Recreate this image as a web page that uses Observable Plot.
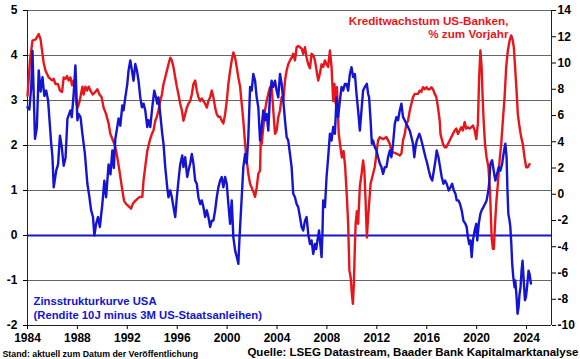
<!DOCTYPE html>
<html><head><meta charset="utf-8">
<script src="https://cdn.jsdelivr.net/npm/d3@7"></script>
<script src="https://cdn.jsdelivr.net/npm/@observablehq/plot@0.6"></script>
<style>
body{margin:0;background:#fff;}
</style></head><body><div id="chart"></div>
<script>
// Zinsstrukturkurve USA (left axis, %-Punkte)
const blueYears=[1984.0,1984.15,1984.3,1984.4,1984.6,1984.75,1984.9,1985.05,1985.2,1985.35,1985.5,1985.65,1985.9,1986.0,1986.1,1986.3,1986.45,1986.6,1986.75,1986.9,1987.05,1987.2,1987.44,1987.55,1987.7,1987.84,1988.0,1988.1,1988.25,1988.4,1988.6,1988.8,1988.95,1989.1,1989.25,1989.36,1989.5,1989.65,1989.8,1990.0,1990.16,1990.3,1990.5,1990.65,1990.8,1990.92,1991.04,1991.17,1991.3,1991.44,1991.6,1991.7,1991.84,1992.0,1992.1,1992.24,1992.37,1992.5,1992.64,1992.77,1992.9,1993.04,1993.17,1993.3,1993.44,1993.6,1993.7,1993.84,1994.0,1994.16,1994.3,1994.4,1994.5,1994.64,1994.8,1994.9,1995.04,1995.2,1995.3,1995.44,1995.57,1995.7,1995.84,1995.97,1996.1,1996.24,1996.4,1996.5,1996.64,1996.8,1996.9,1997.04,1997.17,1997.3,1997.44,1997.57,1997.7,1997.84,1997.97,1998.1,1998.24,1998.37,1998.5,1998.64,1998.77,1998.9,1999.04,1999.17,1999.3,1999.44,1999.57,1999.7,1999.84,1999.97,2000.1,2000.24,2000.37,2000.5,2000.64,2000.78,2000.9,2000.97,2001.04,2001.17,2001.3,2001.44,2001.57,2001.7,2001.84,2001.97,2002.1,2002.24,2002.37,2002.5,2002.64,2002.77,2002.9,2003.04,2003.17,2003.3,2003.44,2003.57,2003.7,2003.84,2003.97,2004.1,2004.24,2004.37,2004.5,2004.64,2004.77,2004.9,2005.04,2005.17,2005.3,2005.44,2005.57,2005.7,2005.84,2005.97,2006.1,2006.24,2006.37,2006.5,2006.64,2006.77,2006.9,2007.04,2007.14,2007.24,2007.37,2007.47,2007.57,2007.64,2007.7,2007.84,2007.97,2008.1,2008.24,2008.37,2008.5,2008.64,2008.77,2008.9,2009.04,2009.17,2009.3,2009.44,2009.57,2009.7,2009.84,2009.97,2010.1,2010.24,2010.37,2010.5,2010.64,2010.77,2010.9,2011.04,2011.2,2011.3,2011.38,2011.5,2011.6,2011.7,2011.84,2011.97,2012.1,2012.24,2012.37,2012.5,2012.64,2012.77,2012.9,2013.04,2013.17,2013.3,2013.44,2013.57,2013.7,2013.84,2013.97,2014.1,2014.24,2014.37,2014.5,2014.64,2014.77,2014.9,2015.0,2015.1,2015.2,2015.4,2015.5,2015.64,2015.77,2015.9,2016.04,2016.17,2016.3,2016.44,2016.57,2016.7,2016.8,2016.94,2017.07,2017.2,2017.34,2017.47,2017.6,2017.76,2017.9,2018.04,2018.17,2018.3,2018.4,2018.54,2018.67,2018.8,2018.94,2019.1,2019.2,2019.3,2019.4,2019.5,2019.6,2019.7,2019.84,2019.97,2020.05,2020.17,2020.3,2020.4,2020.54,2020.67,2020.8,2020.94,2021.0,2021.1,2021.24,2021.37,2021.5,2021.64,2021.77,2021.9,2022.04,2022.2,2022.3,2022.4,2022.47,2022.54,2022.64,2022.7,2022.78,2022.85,2022.94,2023.04,2023.1,2023.2,2023.28,2023.36,2023.44,2023.52,2023.6,2023.68,2023.76,2023.87,2023.95,2024.04,2024.16,2024.24,2024.35];
const blueValues=[2.85,2.8,3.3,4.1,2.15,2.4,3.67,3.2,3.52,3.1,3.22,3.0,2.04,1.75,1.07,1.44,1.58,2.22,1.96,1.55,1.73,2.59,2.78,2.63,3.15,3.78,2.56,2.7,2.63,2.26,1.82,1.15,0.88,0.56,0.41,0.0,0.26,0.41,0.19,0.7,1.22,0.85,1.58,1.36,1.89,1.5,2.15,2.37,2.6,2.44,2.89,2.78,3.07,3.37,3.67,3.89,3.67,3.44,3.81,3.67,3.44,3.07,2.85,2.93,2.78,2.41,2.56,2.41,2.85,3.22,3.07,2.93,3.07,2.7,2.26,2.04,1.52,1.07,0.85,1.0,0.85,0.63,0.41,0.85,1.22,1.58,1.78,1.52,1.74,1.3,1.44,1.6,1.81,1.6,1.22,1.15,0.85,0.7,0.78,0.63,0.41,0.56,0.41,0.19,0.33,0.33,0.56,0.85,1.07,1.22,1.3,1.07,1.3,1.15,0.7,0.26,0.78,-0.04,-0.33,-0.48,-0.63,-0.19,0.19,0.85,1.52,1.81,1.6,2.19,3.3,3.22,3.59,3.44,3.07,2.85,2.11,2.41,2.78,2.56,2.7,2.33,3.15,3.44,3.3,3.44,3.22,3.07,3.59,3.37,3.0,2.56,2.19,2.11,1.81,1.52,0.93,0.85,0.7,0.63,0.41,0.19,0.11,0.33,0.41,0.04,-0.19,-0.11,-0.41,-0.19,-0.3,-0.11,0.11,-0.19,-0.48,0.04,0.78,0.63,1.3,1.74,2.26,2.11,2.41,2.26,3.07,2.63,3.0,3.3,3.22,3.37,3.37,3.22,3.59,3.74,3.52,3.59,3.15,2.78,2.33,2.78,3.22,3.3,3.37,3.15,3.07,2.56,2.04,2.11,1.96,1.89,1.74,1.6,1.52,1.37,1.52,1.52,1.74,1.89,1.74,2.04,2.48,2.63,2.56,2.78,2.93,2.63,2.56,2.48,2.41,2.33,2.19,2.04,1.74,1.96,2.11,2.26,2.19,2.04,1.89,1.74,1.6,1.44,1.3,1.22,1.44,1.67,1.89,1.74,1.52,1.3,1.15,1.22,1.15,1.0,1.07,1.15,1.0,0.93,0.78,0.78,0.7,0.56,0.33,0.26,0.19,-0.04,-0.19,-0.11,-0.48,-0.11,0.11,0.26,-0.11,0.26,0.48,0.56,0.63,0.7,0.78,1.0,1.15,1.59,1.67,1.44,1.22,1.37,1.52,1.44,1.59,1.89,2.04,1.74,1.0,0.48,0.33,0.19,-0.19,-0.63,-0.93,-1.15,-1.0,-1.37,-1.74,-1.59,-1.3,-1.15,-0.78,-0.56,-0.93,-1.44,-1.37,-1.15,-0.78,-0.85,-1.07];

// Kreditwachstum US-Banken, % zum Vorjahr (right axis)
const redYears=[1984.0,1984.2,1984.4,1984.65,1984.9,1985.05,1985.2,1985.3,1985.44,1985.7,1985.97,1986.1,1986.24,1986.44,1986.6,1986.77,1986.9,1987.04,1987.17,1987.3,1987.44,1987.57,1987.7,1987.78,1987.92,1988.02,1988.18,1988.4,1988.5,1988.64,1988.77,1988.9,1989.1,1989.24,1989.44,1989.6,1989.77,1989.94,1990.1,1990.3,1990.5,1990.64,1990.85,1991.04,1991.2,1991.37,1991.6,1991.74,1991.9,1992.1,1992.3,1992.44,1992.64,1992.8,1993.0,1993.2,1993.3,1993.44,1993.6,1993.8,1993.97,1994.1,1994.24,1994.37,1994.5,1994.64,1994.77,1994.9,1995.04,1995.17,1995.3,1995.44,1995.57,1995.7,1995.84,1995.97,1996.1,1996.24,1996.37,1996.5,1996.64,1996.77,1996.9,1997.04,1997.17,1997.3,1997.44,1997.57,1997.7,1997.84,1997.97,1998.1,1998.24,1998.37,1998.5,1998.64,1998.77,1998.9,1999.04,1999.17,1999.3,1999.44,1999.57,1999.7,1999.84,1999.97,2000.1,2000.24,2000.37,2000.5,2000.64,2000.77,2000.9,2001.04,2001.17,2001.3,2001.44,2001.57,2001.7,2001.84,2001.97,2002.1,2002.24,2002.37,2002.5,2002.64,2002.7,2002.77,2002.9,2003.04,2003.17,2003.3,2003.44,2003.57,2003.7,2003.84,2003.97,2004.1,2004.24,2004.37,2004.5,2004.64,2004.77,2004.9,2005.04,2005.17,2005.3,2005.44,2005.57,2005.7,2005.84,2005.97,2006.1,2006.24,2006.37,2006.5,2006.64,2006.77,2006.9,2007.04,2007.17,2007.3,2007.44,2007.57,2007.7,2007.84,2007.97,2008.1,2008.24,2008.37,2008.5,2008.6,2008.7,2008.8,2008.95,2009.08,2009.2,2009.33,2009.46,2009.6,2009.7,2009.8,2009.9,2010.0,2010.08,2010.16,2010.24,2010.3,2010.4,2010.5,2010.64,2010.77,2010.9,2011.0,2011.1,2011.2,2011.3,2011.5,2011.84,2012.1,2012.24,2012.5,2012.77,2013.04,2013.17,2013.3,2013.57,2013.84,2013.97,2014.1,2014.24,2014.37,2014.5,2014.64,2014.77,2014.9,2015.04,2015.17,2015.3,2015.44,2015.57,2015.7,2015.84,2015.97,2016.1,2016.24,2016.37,2016.5,2016.64,2016.77,2016.9,2017.04,2017.1,2017.3,2017.44,2017.57,2017.7,2017.84,2017.97,2018.1,2018.24,2018.37,2018.5,2018.64,2018.77,2018.9,2019.04,2019.17,2019.3,2019.44,2019.57,2019.7,2019.84,2019.97,2020.1,2020.2,2020.3,2020.4,2020.47,2020.56,2020.67,2020.8,2020.94,2021.07,2021.2,2021.3,2021.38,2021.46,2021.57,2021.7,2021.84,2021.97,2022.1,2022.24,2022.37,2022.5,2022.64,2022.77,2022.88,2022.98,2023.08,2023.2,2023.3,2023.44,2023.57,2023.7,2023.84,2023.97,2024.1,2024.24];
const redValues=[7.5,10.2,11.7,11.8,12.2,11.8,10.7,10.0,9.43,8.9,8.67,8.8,8.4,8.4,7.9,7.8,8.9,8.8,9.0,8.67,8.9,8.3,8.67,8.2,6.9,6.6,7.1,8.2,7.6,8.2,7.9,8.2,7.8,7.6,7.8,8.0,7.6,7.4,6.6,6.1,5.4,4.6,4.1,3.6,2.8,1.8,0.3,-0.5,-0.73,-0.9,-1.1,-0.73,-0.5,-0.35,-0.2,-0.2,1.05,2.1,3.3,4.1,4.6,4.86,5.6,5.9,6.4,7.1,7.6,8.4,8.9,9.4,9.9,10.4,10.2,9.7,8.9,8.2,7.6,6.9,6.4,5.6,6.1,6.6,6.9,7.1,7.6,8.4,8.67,7.9,7.4,7.1,7.3,7.1,6.9,6.6,7.1,7.4,7.9,7.4,6.6,6.1,5.9,5.9,5.6,5.4,6.1,7.1,8.4,9.4,10.2,10.8,10.4,9.7,8.9,8.2,6.9,5.6,3.84,2.6,1.56,0.8,0.5,0.2,-0.2,0.5,1.56,1.8,4.35,3.84,5.1,6.4,7.1,7.65,8.16,8.16,6.4,4.6,4.86,5.87,6.4,7.4,7.1,8.67,9.43,9.9,10.2,10.4,10.7,10.2,11.2,11.3,11.2,11.1,10.7,11.2,10.4,9.9,9.6,10.7,10.6,10.2,9.43,8.67,9.2,9.9,9.7,10.2,9.9,9.7,10.95,9.7,7.1,8.4,6.9,8.16,4.6,3.6,2.8,3.3,2.1,-0.2,-2.25,-5.8,-6.3,-7.6,-8.35,-6.8,-4.0,-2.25,-1.3,-2.25,0.6,1.5,2.57,1.8,-0.5,-3.3,-1.75,0.8,2.1,4.1,4.35,4.2,4.35,3.84,3.3,3.2,3.1,2.95,3.1,4.1,4.6,5.37,5.6,6.38,6.9,7.4,7.65,7.65,7.65,7.9,7.8,8.16,8.0,8.16,8.0,8.0,8.16,8.0,7.65,7.4,6.63,5.6,4.6,3.84,3.58,3.58,3.84,4.1,4.35,4.6,4.86,5.0,4.6,4.86,5.1,4.86,5.5,5.0,5.1,5.0,5.1,5.24,4.86,4.2,5.4,8.9,10.95,9.7,7.65,5.6,3.84,2.8,2.1,0.28,-3.27,-4.16,-4.16,-2.5,-0.73,0.8,2.57,3.84,5.6,7.4,9.7,10.95,11.7,12.1,11.8,11.2,9.7,7.9,6.1,5.1,4.35,3.84,2.8,2.06,2.06,2.3];

const leftTicks=[-2,-1,0,1,2,3,4,5];
const rightTicks=[-10,-8,-6,-4,-2,0,2,4,6,8,10,12,14];
const xTicks=[1984,1988,1992,1996,2000,2004,2008,2012,2016,2020,2024];
const gridLevels=[-1,1,2,3,4,5];
const xDomain=[1984,2026];
const leftDomain=[-2,5];
const rightDomain=[-10,14];

const redLabel="Kreditwachstum US-Banken,\n% zum Vorjahr";
const blueLabel="Zinsstrukturkurve USA\n(Rendite 10J minus 3M US-Staatsanleihen)";
const footLeft="Stand: aktuell zum Datum der Veröffentlichung";
const footRight="Quelle: LSEG Datastream, Baader Bank Kapitalmarktanalyse";

const RED="#e8161b", BLUE="#1414d2";
const redToLeft=d3.scaleLinear().domain(rightDomain).range(leftDomain);
const blue=blueYears.map((t,i)=>({t,v:blueValues[i]}));
const red=redYears.map((t,i)=>({t,v:redToLeft(redValues[i])}));

const plot=Plot.plot({
  width:580,height:359,
  marginLeft:27,marginRight:29,marginTop:10,marginBottom:34,
  x:{domain:xDomain,label:null},
  y:{domain:leftDomain,label:null},
  style:{fontFamily:"Arial, 'Liberation Sans', sans-serif",fontSize:"12px",fontWeight:"bold",color:"#000",background:"#fff",overflow:"visible"},
  marks:[
    Plot.ruleY(gridLevels,{stroke:"#666",strokeWidth:1}),
    Plot.ruleY([leftDomain[0]],{stroke:"#222",strokeWidth:1}),
    Plot.ruleX(xDomain,{stroke:"#222",strokeWidth:1}),
    Plot.ruleY([0],{stroke:BLUE,strokeWidth:2}),
    Plot.line(red,{x:"t",y:"v",stroke:RED,strokeWidth:2.4,curve:"linear"}),
    Plot.line(blue,{x:"t",y:"v",stroke:BLUE,strokeWidth:2.4,curve:"linear"}),
    Plot.axisY(leftTicks,{anchor:"left",tickSize:4,tickPadding:6,label:null,tickFormat:d=>String(d),fill:"#000"}),
    Plot.axisY(rightTicks.map(d=>redToLeft(d)),{anchor:"right",tickSize:4,tickPadding:2,label:null,tickFormat:d=>String(Math.round(redToLeft.invert(d))),fill:"#000"}),
    Plot.axisX(xTicks,{anchor:"bottom",tickSize:4,tickPadding:4,label:null,tickFormat:d=>String(d),fill:"#000"}),
    Plot.text([redLabel],{frameAnchor:"top-right",textAnchor:"end",lineAnchor:"top",dx:-43,dy:5,lineHeight:1.12,fontSize:11.7,fontWeight:"bold",fill:RED}),
    Plot.text([blueLabel],{frameAnchor:"bottom-left",textAnchor:"start",lineAnchor:"top",dx:6,dy:-30,lineHeight:1.2,fontSize:11.3,fontWeight:"bold",fill:BLUE}),
    Plot.text([footLeft],{frameAnchor:"bottom-left",textAnchor:"start",lineAnchor:"top",dx:-25,dy:25,fontSize:8.8,fontWeight:"bold",fill:"#000"}),
    Plot.text([footRight],{frameAnchor:"bottom-right",textAnchor:"end",lineAnchor:"top",dx:27,dy:22,fontSize:11.5,fontWeight:"bold",fill:"#000"})
  ]
});
document.getElementById("chart").appendChild(plot);
</script></body></html>
